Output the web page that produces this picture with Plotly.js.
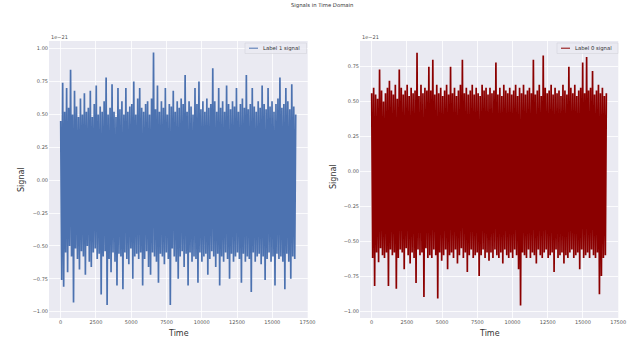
<!DOCTYPE html>
<html>
<head>
<meta charset="utf-8">
<script src="https://cdn.plot.ly/plotly-3.0.1.min.js"></script>
<style>html,body{margin:0;padding:0;background:#fff;}#chart{width:644px;height:347px;}</style>
</head>
<body>
<div id="chart"></div>
<script>
const SAMPLE_STEP = 70;
const label1Signal = [
0.45,-0.76,0.74,-0.81,0.52,-0.55,0.70,-0.70,0.55,-0.50,0.84,-0.58,0.50,-0.93,0.68,-0.52,0.56,-0.60,0.48,-0.68,
0.62,-0.54,0.50,-0.58,0.66,-0.72,0.52,-0.50,0.55,-0.62,0.68,-0.66,0.48,-0.55,0.58,-0.52,0.72,-0.60,0.50,-0.56,
0.56,-0.87,0.52,-0.58,0.60,-0.54,0.78,-0.95,0.50,-0.60,0.55,-0.70,0.73,-0.55,0.52,-0.62,0.48,-0.80,0.70,-0.56,
0.54,-0.58,0.60,-0.83,0.50,-0.55,0.70,-0.60,0.52,-0.64,0.56,-0.52,0.58,-0.75,0.75,-0.58,0.50,-0.56,0.62,-0.60,
0.70,-0.55,0.55,-0.80,0.52,-0.60,0.58,-0.54,0.60,-0.66,0.50,-0.72,0.62,-0.55,0.97,-0.58,0.54,-0.62,0.72,-0.78,
0.52,-0.56,0.60,-0.58,0.55,-0.64,0.70,-0.55,0.50,-0.60,0.58,-0.95,0.56,-0.52,0.68,-0.58,0.52,-0.62,0.60,-0.75,
0.55,-0.58,0.62,-0.54,0.58,-0.66,0.80,-0.56,0.52,-0.80,0.60,-0.55,0.56,-0.62,0.50,-0.58,0.70,-0.60,0.58,-0.78,
0.75,-0.55,0.54,-0.62,0.60,-0.58,0.52,-0.56,0.62,-0.72,0.55,-0.60,0.58,-0.54,0.85,-0.58,0.60,-0.66,0.52,-0.56,
0.70,-0.80,0.55,-0.58,0.60,-0.62,0.52,-0.55,0.72,-0.60,0.58,-0.75,0.54,-0.56,0.60,-0.62,0.56,-0.58,0.70,-0.55,
0.52,-0.60,0.58,-0.78,0.62,-0.56,0.55,-0.62,0.80,-0.58,0.54,-0.60,0.58,-0.85,0.70,-0.55,0.56,-0.62,0.52,-0.58,
0.60,-0.56,0.55,-0.64,0.72,-0.58,0.58,-0.76,0.54,-0.60,0.70,-0.55,0.56,-0.62,0.60,-0.58,0.52,-0.80,0.58,-0.56,
0.62,-0.60,0.78,-0.58,0.55,-0.62,0.58,-0.83,0.70,-0.56,0.60,-0.62,0.54,-0.75,0.73,-0.58,0.56,-0.60,0.50
];
const label0Signal = [
0.56,-0.62,0.60,-0.82,0.55,-0.58,0.52,-0.65,0.73,-0.55,0.58,-0.60,0.50,-0.62,0.56,-0.58,0.60,-0.82,0.65,-0.56,
0.58,-0.60,0.55,-0.58,0.62,-0.84,0.52,-0.62,0.73,-0.56,0.60,-0.58,0.55,-0.70,0.58,-0.55,0.62,-0.60,0.54,-0.66,
0.60,-0.58,0.56,-0.62,0.58,-0.80,0.85,-0.56,0.54,-0.60,0.62,-0.58,0.56,-0.90,0.60,-0.55,0.58,-0.62,0.75,-0.60,
0.58,-0.62,0.80,-0.56,0.55,-0.60,0.62,-0.91,0.56,-0.58,0.60,-0.64,0.54,-0.60,0.58,-0.56,0.62,-0.70,0.55,-0.60,
0.75,-0.58,0.56,-0.62,0.60,-0.56,0.54,-0.66,0.58,-0.60,0.62,-0.55,0.80,-0.62,0.56,-0.58,0.60,-0.72,0.55,-0.60,
0.58,-0.56,0.62,-0.62,0.55,-0.60,0.60,-0.58,0.56,-0.75,0.54,-0.60,0.62,-0.56,0.58,-0.62,0.60,-0.58,0.55,-0.64,
0.60,-0.58,0.56,-0.62,0.58,-0.56,0.78,-0.60,0.55,-0.62,0.60,-0.58,0.54,-0.66,0.62,-0.56,0.58,-0.60,0.56,-0.62,
0.60,-0.58,0.55,-0.62,0.58,-0.56,0.62,-0.60,0.54,-0.70,0.60,-0.96,0.56,-0.58,0.62,-0.60,0.55,-0.62,0.58,-0.56,
0.60,-0.62,0.56,-0.58,0.80,-0.60,0.55,-0.66,0.58,-0.56,0.62,-0.60,0.54,-0.62,0.83,-0.58,0.60,-0.56,0.56,-0.62,
0.58,-0.60,0.62,-0.58,0.55,-0.72,0.60,-0.56,0.56,-0.62,0.58,-0.60,0.54,-0.58,0.62,-0.66,0.58,-0.60,0.55,-0.62,
0.75,-0.58,0.60,-0.56,0.56,-0.62,0.62,-0.60,0.54,-0.58,0.58,-0.70,0.60,-0.56,0.78,-0.62,0.56,-0.60,0.82,-0.58,
0.58,-0.62,0.60,-0.56,0.72,-0.60,0.55,-0.62,0.58,-0.58,0.62,-0.88,0.56,-0.75,0.60,-0.62,0.54,-0.60,0.56
];
const xTicks = [0,2500,5000,7500,10000,12500,15000,17500];
const yTicks = [-1.00,-0.75,-0.50,-0.25,0.00,0.25,0.50,0.75,1.00];

const timeOf = arr => arr.map((_, i) => i * SAMPLE_STEP);

const bg = '#EAEAF2';
const tickFont = {family:'DejaVu Sans', size:5, color:'#555'};
const traces = [
  {x: timeOf(label1Signal), y: label1Signal, type:'scatter', mode:'lines', line:{color:'#4C72B0', width:1.7, simplify:false}, xaxis:'x', yaxis:'y', name:'Label 1 signal', hoverinfo:'skip'},
  {x: timeOf(label0Signal), y: label0Signal, type:'scatter', mode:'lines', line:{color:'#8B0000', width:1.7, simplify:false}, xaxis:'x2', yaxis:'y2', name:'Label 0 signal', hoverinfo:'skip'}
];
const axCommon = {showgrid:true, gridcolor:'#fff', gridwidth:0.8, zeroline:false, showline:false, ticks:'', tickfont:tickFont, fixedrange:true};
const xAx = (dom, anchor) => Object.assign({}, axCommon, {domain:dom, anchor:anchor, range:[-829,17509], tickvals:xTicks, ticktext:xTicks.map(String)});
const yAx = (dom, anchor, rng) => Object.assign({}, axCommon, {domain:dom, anchor:anchor, range:rng, tickvals:yTicks, tickformat:'.2f'});
const yDom = [0.0836, 0.8818];

const legendBox = (x0, x1, color, label) => ({
  shapes: [
    {type:'rect', xref:'paper', yref:'paper', x0:x0/644, x1:x1/644, y0:(347-53.5)/347, y1:(347-43)/347, fillcolor:'rgba(234,234,242,0.85)', line:{color:'#d3d3dc', width:0.6}},
    {type:'line', xref:'paper', yref:'paper', x0:(x0+4)/644, x1:(x0+13)/644, y0:(347-48.2)/347, y1:(347-48.2)/347, line:{color:color, width:1}}
  ],
  ann: {xref:'paper', yref:'paper', x:(x0+16)/644, y:(347-48.2)/347, xanchor:'left', yanchor:'middle', text:label, showarrow:false, font:{family:'DejaVu Sans', size:5.3, color:'#333'}}
});
const lg1 = legendBox(245, 306.5, '#4C72B0', 'Label 1 signal');
const lg2 = legendBox(557, 618, '#8B0000', 'Label 0 signal');

const layout = {
  width:644, height:347, margin:{l:0,r:0,t:0,b:0}, paper_bgcolor:'#fff', plot_bgcolor:bg, showlegend:false,
  xaxis: xAx([49/644, 307.7/644], 'y'),
  yaxis: yAx(yDom, 'x', [-1.048, 1.058]),
  xaxis2: xAx([360/644, 618.3/644], 'y2'),
  yaxis2: yAx(yDom, 'x2', [-1.05, 0.934]),
  shapes: lg1.shapes.concat(lg2.shapes),
  annotations: [
    {xref:'paper', yref:'paper', x:0.5, y:(347-5.5)/347, text:'Signals in Time Domain', showarrow:false, xanchor:'center', yanchor:'middle', font:{family:'DejaVu Sans', size:5.3, color:'#333'}},
    {xref:'paper', yref:'paper', x:49/644, y:(347-37)/347, text:'1e\u221221', showarrow:false, xanchor:'left', yanchor:'middle', font:{family:'DejaVu Sans', size:5, color:'#555'}},
    {xref:'paper', yref:'paper', x:360/644, y:(347-37)/347, text:'1e\u221221', showarrow:false, xanchor:'left', yanchor:'middle', font:{family:'DejaVu Sans', size:5, color:'#555'}},
    {xref:'paper', yref:'paper', x:21/644, y:(347-180)/347, text:'Signal', textangle:-90, showarrow:false, xanchor:'center', yanchor:'middle', font:{family:'DejaVu Sans', size:8, color:'#333'}},
    {xref:'paper', yref:'paper', x:333/644, y:(347-176)/347, text:'Signal', textangle:-90, showarrow:false, xanchor:'center', yanchor:'middle', font:{family:'DejaVu Sans', size:8, color:'#333'}},
    {xref:'paper', yref:'paper', x:178/644, y:(347-333)/347, text:'Time', showarrow:false, xanchor:'center', yanchor:'middle', font:{family:'DejaVu Sans', size:8, color:'#333'}},
    {xref:'paper', yref:'paper', x:489/644, y:(347-333)/347, text:'Time', showarrow:false, xanchor:'center', yanchor:'middle', font:{family:'DejaVu Sans', size:8, color:'#333'}},
    lg1.ann, lg2.ann
  ]
};
Plotly.newPlot('chart', traces, layout, {displayModeBar:false, staticPlot:true});
</script>
</body>
</html>
